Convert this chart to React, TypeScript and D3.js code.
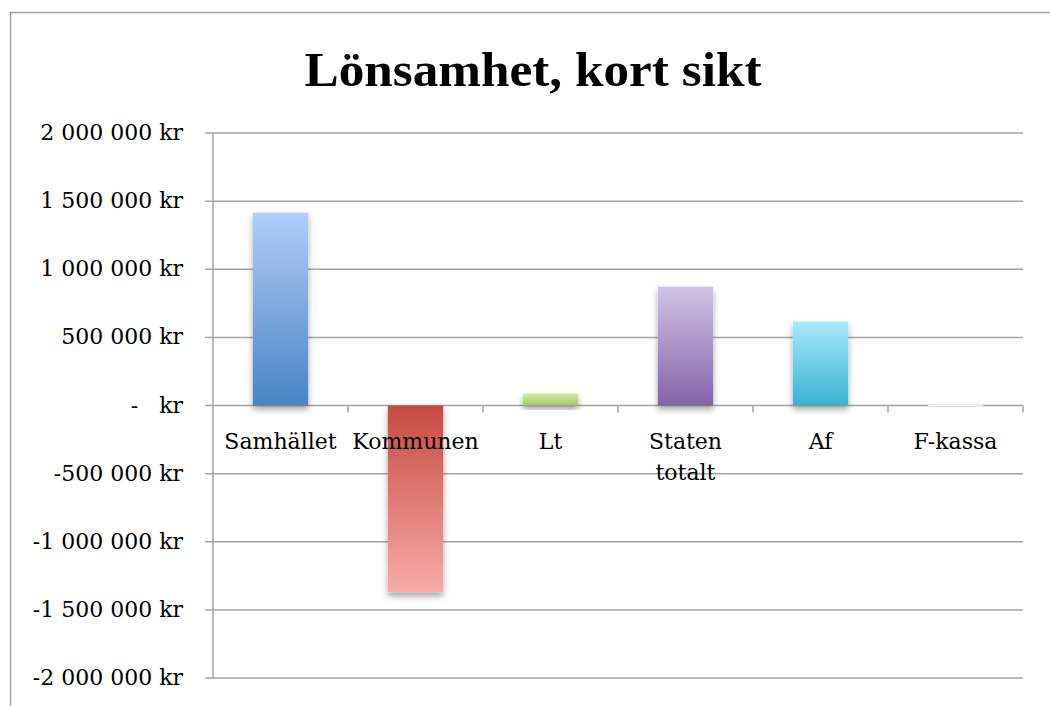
import React from "react";
import * as d3 from "d3";

const categories = ["Samhället", "Kommunen", "Lt", "Staten totalt", "Af", "F-kassa"];
const values = [1415000, -1370000, 88000, 872000, 616000, 4000];
const tickValues = [2000000, 1500000, 1000000, 500000, 0, -500000, -1000000, -1500000, -2000000];
const topColors = ["#b2cdf8", "#c64a40", "#d6eca4", "#d1c3e8", "#a8e9fd", "#fafafa"];
const bottomColors = ["#4884c4", "#f9aba8", "#a3c66a", "#8463a7", "#3bb2d3", "#eeeeee"];
const title = "Lönsamhet, kort sikt";

const W = 1050, H = 706;
const left = 213, right = 1023, top = 133, bottom = 678;

function fmt(v: number): string {
  if (v === 0) return "-   kr";
  const s = d3.format(",")(Math.abs(v)).replace(/,/g, " ");
  return (v < 0 ? "-" : "") + s + " kr";
}

export default function App() {
  const y = d3.scaleLinear().domain([-2000000, 2000000]).range([bottom, top]);
  const x = d3.scaleBand().domain(categories).range([left, right]).paddingInner(0).paddingOuter(0);
  const bw = x.bandwidth() * 0.41;
  const serif = "'DejaVu Serif', serif";
  const titleFont = "'Liberation Serif', serif";
  return (
    <svg width={W} height={H} style={{ position: "absolute", left: 0, top: 0 }}>
      <defs>
        {categories.map((c, i) => (
          <linearGradient key={c} id={`g${i}`} x1="0" y1="0" x2="0" y2="1">
            <stop offset="0" stopColor={topColors[i]} />
            <stop offset="1" stopColor={bottomColors[i]} />
          </linearGradient>
        ))}
        <filter id="sh" x="-30%" y="-30%" width="160%" height="160%">
          <feDropShadow dx="0" dy="4" stdDeviation="3" floodColor="#000" floodOpacity="0.35" />
        </filter>
      </defs>
      <rect x={0} y={0} width={W} height={H} fill="#fff" />
      <rect x={10.5} y={12.5} width={W + 20} height={H + 20} fill="none" stroke="#a0a0a0" strokeWidth={1.5} />
      <text x={533} y={86} textAnchor="middle" fontFamily={titleFont} fontWeight="bold" fontSize={48} fill="#000"
        textLength={457} lengthAdjust="spacingAndGlyphs">{title}</text>
      {tickValues.map((t) => (
        <g key={t}>
          <line x1={205} x2={right} y1={y(t)} y2={y(t)} stroke="#a3a3a3" strokeWidth={1.5} />
          <text x={183} y={y(t) + 7} textAnchor="end" fontFamily={serif} fontSize={22} fill="#000"
            style={{ whiteSpace: "pre" }}>{fmt(t)}</text>
        </g>
      ))}
      <line x1={left} x2={left} y1={top} y2={bottom} stroke="#a3a3a3" strokeWidth={1.5} />
      {categories.map((c) => (
        <line key={c} x1={(x(c) as number) + x.bandwidth()} x2={(x(c) as number) + x.bandwidth()} y1={y(0)} y2={y(0) + 7}
          stroke="#a3a3a3" strokeWidth={1.5} />
      ))}
      {categories.map((c, i) => {
        const v = values[i];
        const y0 = y(Math.max(v, 0));
        const h = Math.abs(y(v) - y(0));
        const cx = (x(c) as number) + x.bandwidth() / 2;
        return (
          <rect key={c} x={cx - bw / 2} y={y0} width={bw} height={Math.max(h, 1)} fill={`url(#g${i})`} filter="url(#sh)" />
        );
      })}
      {categories.map((c) => {
        const cx = (x(c) as number) + x.bandwidth() / 2;
        const parts = c === "Staten totalt" ? ["Staten", "totalt"] : [c];
        return (
          <text key={c} x={cx} y={y(0) + 43} textAnchor="middle" fontFamily={serif} fontSize={22} fill="#000">
            {parts.map((p, k) => (
              <tspan key={k} x={cx} dy={k === 0 ? 0 : 31}>{p}</tspan>
            ))}
          </text>
        );
      })}
    </svg>
  );
}
